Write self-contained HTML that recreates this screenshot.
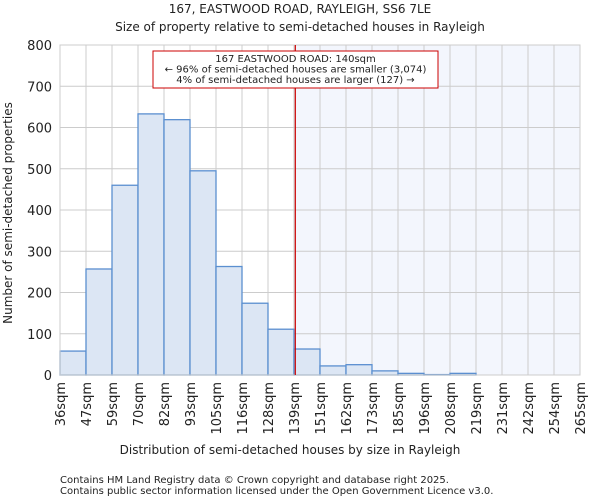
<!DOCTYPE html>
<html><head><meta charset="utf-8"><style>
body{margin:0;background:#fff;font-family:"DejaVu Sans","Liberation Sans",sans-serif;}
svg text{font-family:"DejaVu Sans","Liberation Sans",sans-serif;fill:#222;}
</style></head><body>
<svg id="chart" width="600" height="500" xmlns="http://www.w3.org/2000/svg">
<text x="300" y="13" font-size="12" text-anchor="middle">167, EASTWOOD ROAD, RAYLEIGH, SS6 7LE</text>
<text x="300" y="31" font-size="12" text-anchor="middle">Size of property relative to semi-detached houses in Rayleigh</text>
<g id="plot"></g>
<text x="290" y="454" font-size="12" text-anchor="middle">Distribution of semi-detached houses by size in Rayleigh</text>
<text transform="translate(12,213) rotate(-90)" font-size="12" text-anchor="middle">Number of semi-detached properties</text>
<text x="60" y="483" font-size="10" fill="#444">Contains HM Land Registry data © Crown copyright and database right 2025.</text>
<text x="60" y="494" font-size="10" fill="#444">Contains public sector information licensed under the Open Government Licence v3.0.</text>
</svg>
<script>
const categories=["36sqm","47sqm","59sqm","70sqm","82sqm","93sqm","105sqm","116sqm","128sqm","139sqm","151sqm","162sqm","173sqm","185sqm","196sqm","208sqm","219sqm","231sqm","242sqm","254sqm","265sqm"];
const counts=[58,257,460,633,619,495,263,174,111,63,22,25,10,4,1,4,0,0,0,0];
const yTicks=[0,100,200,300,400,500,600,700,800];
const markerIndex=9.05;
const annotation=["167 EASTWOOD ROAD: 140sqm","← 96% of semi-detached houses are smaller (3,074)","4% of semi-detached houses are larger (127) →"];
const NS="http://www.w3.org/2000/svg";
const L=60,R=580,T=45,B=375,yMax=800;
const bw=(R-L)/counts.length;
const xs=i=>L+i*bw;
const ys=v=>B-(v/yMax)*(B-T);
const g=document.getElementById('plot');
function mk(t,a){const e=document.createElementNS(NS,t);for(const k in a)e.setAttribute(k,a[k]);g.appendChild(e);return e;}
let e=mk('rect',{x:xs(markerIndex),y:T,width:R-xs(markerIndex),height:B-T,fill:'#f3f6fd'});


for(let i=0;i<=counts.length;i++){e=mk('line',{x1:xs(i),x2:xs(i),y1:T,y2:B,stroke:'#cccccc','stroke-width':1});

}
yTicks.forEach(t=>{e=mk('line',{x1:L,x2:R,y1:ys(t),y2:ys(t),stroke:'#cccccc','stroke-width':1});


e=mk('text',{x:L-8,y:ys(t)+5,'font-size':13,'text-anchor':'end'});e.textContent=t;

});
counts.forEach((v,i)=>{if(v<=0)return;e=mk('rect',{x:xs(i),y:ys(v),width:bw,height:B-ys(v),fill:'#dce6f4',stroke:'#5b8fd0','stroke-width':1.3});

});
categories.forEach((c,i)=>{const x=xs(i);e=mk('text',{transform:`translate(${x+5},${B+7}) rotate(-90)`,'font-size':13,'text-anchor':'end'});e.textContent=c;

});
e=mk('rect',{x:L,y:T,width:R-L,height:B-T,fill:'none',stroke:'#cccccc','stroke-width':1});


e=mk('line',{x1:xs(markerIndex),x2:xs(markerIndex),y1:T,y2:B,stroke:'#cc0000','stroke-width':1.2});


e=mk('rect',{x:153,y:51,width:285,height:37,fill:'#fff',stroke:'#cc0000','stroke-width':1});


annotation.forEach((s,i)=>{e=mk('text',{x:295.5,y:62+i*10.5,'font-size':10,'text-anchor':'middle'});e.textContent=s;

});
</script>
</body></html>
